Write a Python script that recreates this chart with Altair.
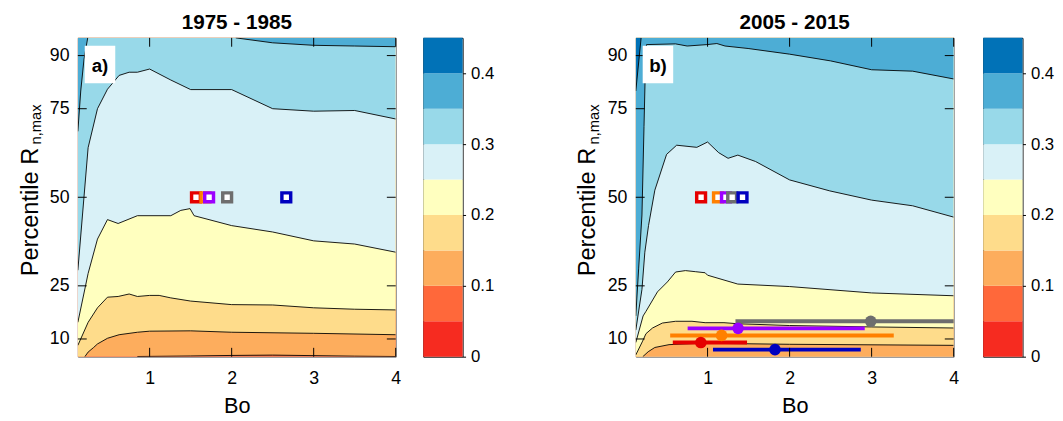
import altair as alt
import pandas as pd

FONT = "Liberation Sans"
W, H = 323, 324
X0, X1 = 0.125, 4.0
Y0, Y1 = 5.0, 95.0
X_TICKS = [1, 2, 3, 4]
Y_TICKS = [10, 25, 50, 75, 90]

LEVELS = [0, 0.05, 0.1, 0.15, 0.2, 0.25, 0.3, 0.35, 0.4, 0.45]
LEVEL_COLORS = ["#F62B20", "#FF683A", "#FDAD5D", "#FEDC8B", "#FFFFBF",
                "#D9F1F7", "#98D9E9", "#4DADD5", "#0172B7"]
CBAR_TICKS = [0, 0.1, 0.2, 0.3, 0.4]

GROUPS = ["red", "orange", "purple", "gray", "blue"]
GROUP_COLORS = ["#E50000", "#FF8000", "#9B00FF", "#6E6E6E", "#0000BF"]

# ---- panel a contour lines (level -> pieces of x, y) ----
A_C10_X = [0.85, 1.5, 2.0, 2.5, 3.0, 3.5, 4.0]
A_C10_Y = [5.05, 5.2, 5.35, 5.45, 5.3, 5.15, 5.05]
A_C15_X = [0.21, 0.25, 0.317, 0.364, 0.486, 0.628, 0.851, 1.0, 1.5, 2.0, 3.0, 4.0]
A_C15_Y = [5.0, 6.3, 7.6, 8.6, 10.2, 11.2, 11.9, 12.2, 12.3, 11.9, 11.6, 11.2]
A_C20_X = [0.125, 0.25, 0.364, 0.486, 0.616, 0.75, 0.851, 1.0, 1.116, 1.258, 1.5, 2.0, 2.5, 3.0, 3.5, 4.0]
A_C20_Y = [8.2, 14.7, 18.8, 21.8, 22.0, 22.7, 22.0, 22.3, 22.3, 21.6, 20.7, 19.7, 19.6, 18.8, 18.4, 18.2]
A_C25_X = [0.125, 0.25, 0.364, 0.486, 0.616, 0.851, 1.258, 1.38, 1.493, 1.542, 2.0, 2.5, 3.0, 3.5, 4.0]
A_C25_Y = [14.7, 28.5, 38.2, 43.7, 42.6, 44.8, 44.8, 46.3, 46.8, 44.8, 42.0, 40.2, 37.7, 36.8, 34.5]
A_C30_X = [0.125, 0.25, 0.364, 0.486, 0.628, 0.75, 0.851, 1.0, 1.258, 1.5, 2.0, 2.5, 3.0, 3.5, 4.0]
A_C30_Y = [29.4, 64.0, 75.0, 80.5, 84.4, 85.3, 85.3, 86.2, 83.1, 80.4, 80.4, 75.0, 74.3, 74.5, 72.1]
A_C35L_X = [0.125, 0.16, 0.2, 0.245]
A_C35L_Y = [68.6, 80.0, 89.0, 95.0]
A_C35R_X = [2.05, 2.5, 3.0, 3.5, 4.0]
A_C35R_Y = [95.0, 93.6, 92.9, 92.7, 92.5]

# ---- panel b contour lines ----
B_C15_X = [0.21, 0.276, 0.357, 0.53, 0.93, 2.0, 4.0]
B_C15_Y = [5.0, 6.4, 7.6, 8.4, 8.8, 8.5, 8.2]
B_C20_X = [0.125, 0.208, 0.249, 0.329, 0.449, 0.61, 0.81, 0.97, 1.2, 1.368, 2.0, 3.0, 4.0]
B_C20_Y = [5.5, 9.4, 11.5, 13.1, 14.5, 15.0, 15.0, 14.6, 14.6, 14.3, 13.8, 13.4, 13.1]
B_C25_X = [0.125, 0.214, 0.249, 0.389, 0.51, 0.61, 0.73, 0.85, 0.97, 1.0, 1.368, 2.0, 3.0, 4.0]
B_C25_Y = [9.0, 16.5, 17.8, 23.3, 26.1, 28.9, 29.3, 29.0, 28.7, 28.0, 25.5, 24.8, 23.0, 22.2]
B_C30_X = [0.125, 0.2, 0.235, 0.28, 0.357, 0.5, 0.623, 0.869, 1.0, 1.135, 1.25, 1.369, 1.585, 2.0, 2.49, 3.0, 3.5, 4.0]
B_C30_Y = [12.5, 24.0, 34.5, 42.0, 52.0, 62.1, 64.7, 64.1, 65.6, 62.6, 61.0, 61.9, 60.1, 54.9, 51.8, 49.2, 47.6, 44.4]
B_C35_X = [0.125, 0.16, 0.2, 0.225, 0.24, 0.255, 0.61, 0.751, 0.992, 1.113, 1.213, 1.494, 2.0, 2.5, 3.0, 3.5, 4.0]
B_C35_Y = [16.5, 30.0, 45.0, 70.0, 85.0, 93.1, 93.3, 92.7, 93.1, 93.4, 92.7, 92.0, 90.4, 88.5, 86.0, 85.6, 83.4]
B_C40_X = [0.125, 0.19]
B_C40_Y = [80.0, 95.0]

# ---- markers ----
SQ_Y = 50
A_SQ_X = [1.565, 1.681, 1.725, 1.945, 2.666]
B_SQ_X = [0.921, 1.127, 1.224, 1.300, 1.426]
B_DOT_X = [0.918, 1.171, 1.372, 2.989, 1.822]
B_LO = [0.576, 0.544, 0.757, 1.340, 1.066]
B_HI = [1.481, 3.27, 2.916, 4.5, 2.868]
B_Y = [9, 11, 13, 15, 7]

A_CONTOURS = [
    (2, [(A_C10_X, A_C10_Y)]),
    (3, [(A_C15_X, A_C15_Y)]),
    (4, [(A_C20_X, A_C20_Y)]),
    (5, [(A_C25_X, A_C25_Y)]),
    (6, [(A_C30_X, A_C30_Y)]),
    (7, [(A_C35L_X, A_C35L_Y), (A_C35R_X, A_C35R_Y)]),
]
B_CONTOURS = [
    (3, [(B_C15_X, B_C15_Y)]),
    (4, [(B_C20_X, B_C20_Y)]),
    (5, [(B_C25_X, B_C25_Y)]),
    (6, [(B_C30_X, B_C30_Y)]),
    (7, [(B_C35_X, B_C35_Y)]),
    (8, [(B_C40_X, B_C40_Y)]),
]

xscale = alt.Scale(domain=[X0, X1], nice=False, zero=False)
yscale = alt.Scale(domain=[Y0, Y1], nice=False, zero=False)
xaxis = alt.Axis(values=X_TICKS, title="Bo", titleFontSize=22, titleFontWeight="normal",
                 titleColor="black", labelFontSize=18, labelColor="black", ticks=False,
                 domain=False, grid=False, labelPadding=13, titlePadding=9, labelFlush=False)
yaxis = alt.Axis(values=Y_TICKS, title=None, labelFontSize=18, labelColor="black",
                 ticks=False, domain=False, grid=False, labelPadding=9)


def X(f):
    return alt.X(f, type="quantitative", scale=xscale, axis=xaxis)


def Y(f):
    return alt.Y(f, type="quantitative", scale=yscale, axis=yaxis)


def area_df(pieces):
    xs, ys = [], []
    for px, py in pieces:
        xs += list(px)
        ys += list(py)
    if xs[0] > X0:
        xs.insert(0, X0)
        ys.insert(0, ys[0])
    if xs[-1] < X1:
        xs.append(X1)
        ys.append(ys[-1])
    return pd.DataFrame({"x": xs, "y": ys})


def panel(title, label, contours, base_idx, sq_x, bars):
    layers = []
    base = pd.DataFrame({"x": [X0], "x2": [X1], "y": [Y0], "y2": [Y1]})
    layers.append(alt.Chart(base).mark_rect(color=LEVEL_COLORS[base_idx]).encode(
        x=X("x"), x2="x2", y=Y("y"), y2="y2"))
    rows = []
    for idx, pieces in contours:
        layers.append(alt.Chart(area_df(pieces)).mark_area(
            color=LEVEL_COLORS[idx], clip=True, interpolate="linear").encode(
            x=X("x"), y=Y("y"), y2=alt.datum(Y1)))
        for k, (px, py) in enumerate(pieces):
            for i, (a, b) in enumerate(zip(px, py)):
                rows.append({"x": a, "y": b, "piece": f"{idx}-{k}", "i": i})
    layers.append(alt.Chart(pd.DataFrame(rows)).mark_line(
        color="black", strokeWidth=0.9, clip=True).encode(
        x=X("x"), y=Y("y"), detail="piece:N", order="i:Q"))

    gscale = alt.Scale(domain=GROUPS, range=GROUP_COLORS)
    if bars is not None:
        dot_x, lo, hi, yv = bars
        bdf = pd.DataFrame({"g": GROUPS, "x": dot_x, "lo": lo, "hi": hi, "y": yv})
        layers.append(alt.Chart(bdf).mark_rule(strokeWidth=4, clip=True).encode(
            x=X("lo"), x2="hi", y=Y("y"),
            color=alt.Color("g:N", scale=gscale, legend=None)))
        layers.append(alt.Chart(bdf).mark_circle(size=140, opacity=1).encode(
            x=X("x"), y=Y("y"),
            color=alt.Color("g:N", scale=gscale, legend=None)))

    sdf = pd.DataFrame({"g": GROUPS, "x": sq_x, "y": [SQ_Y] * 5})
    layers.append(alt.Chart(sdf).mark_point(
        shape="square", size=80, strokeWidth=3.5, fill="white", filled=False, opacity=1).encode(
        x=X("x"), y=Y("y"), stroke=alt.Color("g:N", scale=gscale, legend=None)))

    tx = pd.DataFrame({"v": X_TICKS})
    ty = pd.DataFrame({"v": Y_TICKS})
    layers.append(alt.Chart(tx).mark_rule(color="black").encode(
        x=X("v"), y=alt.value(H), y2=alt.value(H - 9)))
    layers.append(alt.Chart(tx).mark_rule(color="black").encode(
        x=X("v"), y=alt.value(0), y2=alt.value(9)))
    layers.append(alt.Chart(ty).mark_rule(color="black").encode(
        y=Y("v"), x=alt.value(0), x2=alt.value(9)))
    layers.append(alt.Chart(ty).mark_rule(color="black").encode(
        y=Y("v"), x=alt.value(W), x2=alt.value(W - 9)))

    one = pd.DataFrame({"k": [0]})
    layers.append(alt.Chart(one).mark_rect(fill="white").encode(
        x=alt.value(7), x2=alt.value(38), y=alt.value(8), y2=alt.value(46)))
    layers.append(alt.Chart(one).mark_text(
        text=label, fontSize=19, fontWeight="bold", align="center", baseline="middle",
        color="black").encode(x=alt.value(22.5), y=alt.value(29)))
    layers.append(alt.Chart(one).mark_text(
        text="Percentile R", fontSize=24, angle=270, align="center", baseline="alphabetic",
        color="black").encode(x=alt.value(-41), y=alt.value(177)))
    layers.append(alt.Chart(one).mark_text(
        text="n,max", fontSize=15, angle=270, align="center", baseline="alphabetic",
        color="black").encode(x=alt.value(-37), y=alt.value(88)))

    return alt.layer(*layers).properties(
        width=W, height=H,
        title=alt.TitleParams(title, fontSize=21, fontWeight="bold", color="black",
                              anchor="middle", offset=5))


def colorbar():
    cdf = pd.DataFrame({"lo": LEVELS[:-1], "hi": LEVELS[1:], "c": LEVEL_COLORS})
    return alt.Chart(cdf).mark_rect().encode(
        y=alt.Y("lo:Q", scale=alt.Scale(domain=[0, 0.45], nice=False, zero=False),
                axis=alt.Axis(orient="right", values=CBAR_TICKS, format="~g", title=None,
                              labelFontSize=17, labelColor="black", tickSize=3,
                              tickColor="black", domain=False, grid=False, labelPadding=5)),
        y2="hi:Q",
        x=alt.value(0), x2=alt.value(40),
        color=alt.Color("c:N", scale=None),
    ).properties(width=40, height=H, view=alt.ViewBackground(stroke="black", strokeWidth=1))


pa = panel("1975 - 1985", "a)", A_CONTOURS, 1, A_SQ_X, None)
pb = panel("2005 - 2015", "b)", B_CONTOURS, 2, B_SQ_X, (B_DOT_X, B_LO, B_HI, B_Y))

left = alt.hconcat(pa, colorbar(), spacing=21)
right = alt.hconcat(pb, colorbar(), spacing=23)
chart = alt.hconcat(left, right, spacing=82).properties(
    padding={"left": 10, "top": 0, "right": 0, "bottom": 0},
    background="white",
).configure(font=FONT).configure_view(stroke="#6A6A6A", strokeWidth=1)

chart.save("out.html", embed_options={"renderer": "svg", "actions": False})
